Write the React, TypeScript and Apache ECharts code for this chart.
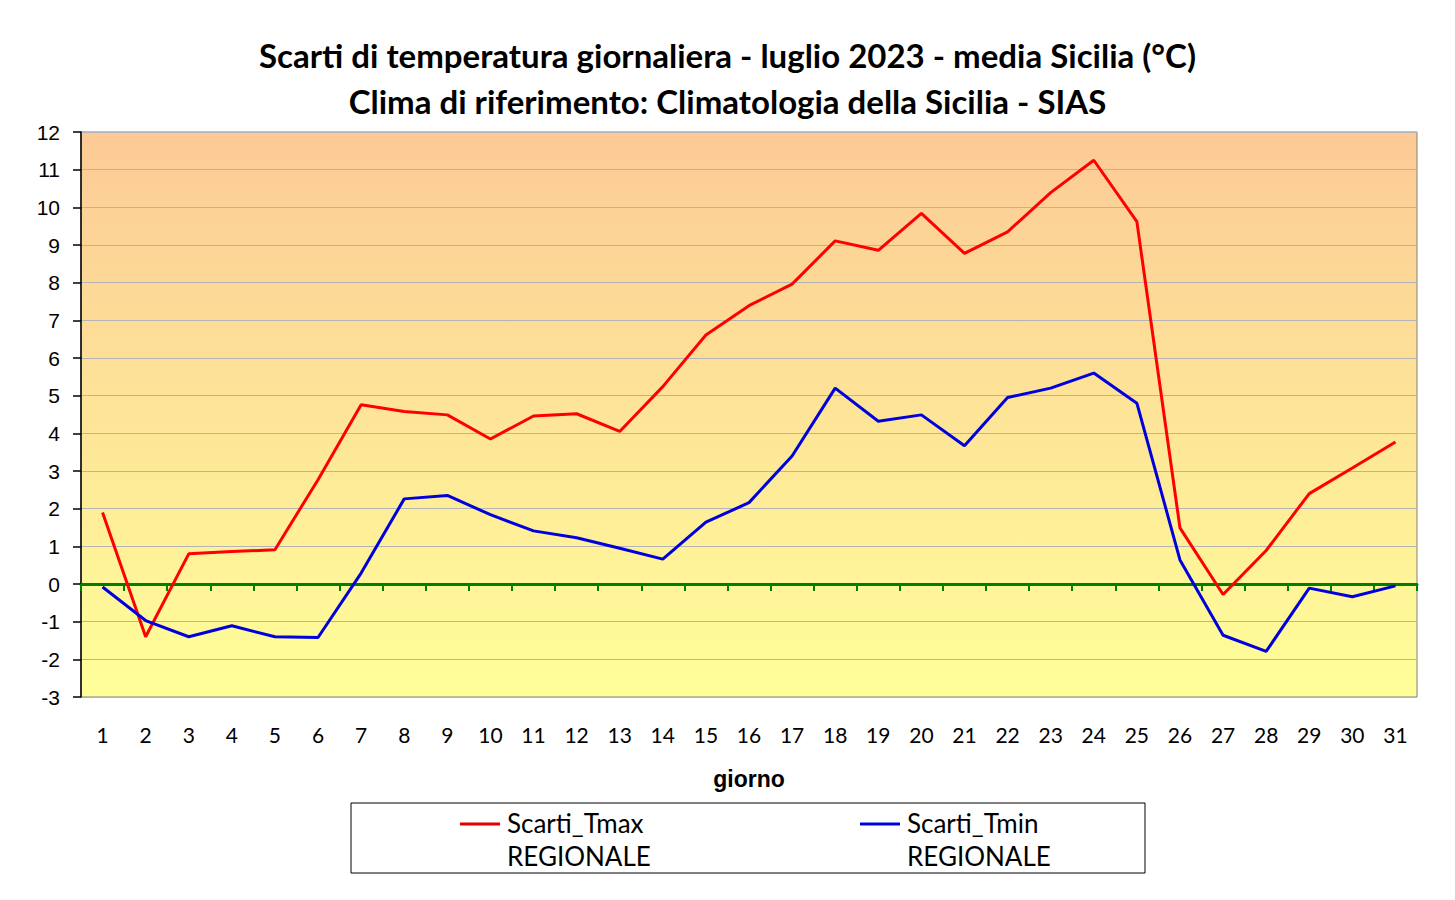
import React, { useEffect, useRef } from "react";
import * as echarts from "echarts";

const days = ["1","2","3","4","5","6","7","8","9","10","11","12","13","14","15","16","17","18","19","20","21","22","23","24","25","26","27","28","29","30","31"];
const tmax = [1.9,-1.4,0.8,0.86,0.91,2.77,4.76,4.58,4.49,3.85,4.46,4.52,4.05,5.24,6.61,7.39,7.96,9.11,8.86,9.84,8.78,9.35,10.39,11.25,9.62,1.49,-0.28,0.89,2.4,3.08,3.77];
const tmin = [-0.08,-0.97,-1.4,-1.11,-1.4,-1.42,0.29,2.26,2.35,1.84,1.41,1.23,0.95,0.66,1.64,2.16,3.4,5.2,4.32,4.49,3.67,4.95,5.2,5.6,4.8,0.64,-1.36,-1.79,-0.11,-0.34,-0.05];
const titleLines = ["Scarti di temperatura giornaliera - luglio 2023 - media Sicilia (°C)", "Clima di riferimento: Climatologia della Sicilia - SIAS"];
const seriesNames = ["Scarti_Tmax", "Scarti_Tmin"];
const legendSub = "REGIONALE";

export default function App() {
  const ref = useRef<HTMLDivElement>(null);
  useEffect(() => {
    if (!ref.current) return;
    const chart = echarts.init(ref.current, null, { renderer: "svg" });
    const xLabelFont = { fontFamily: "Lato", fontSize: 21, color: "#000" };
    const titleStyle = { fontFamily: "Lato", fontWeight: "bold", fontSize: 33, color: "#000" };
    const legendText = { fontFamily: "Lato", fontSize: 26, fill: "#000", verticalAlign: "middle" };
    chart.setOption({
      animation: false,
      backgroundColor: "#ffffff",
      title: [
        { text: titleLines[0], left: "center", top: 33, textStyle: titleStyle },
        { text: titleLines[1], left: "center", top: 79, textStyle: titleStyle },
      ],
      grid: {
        left: 81, right: 38, top: 132, bottom: 203,
        show: true,
        borderColor: "#808080",
        borderWidth: 1,
        backgroundColor: new echarts.graphic.LinearGradient(0, 0, 0, 1, [
          { offset: 0, color: "#FCCA96" },
          { offset: 1, color: "#FFFF99" },
        ]),
      },
      xAxis: [
        {
          type: "category",
          data: days,
          boundaryGap: true,
          position: "bottom",
          axisLine: { show: false, onZero: false },
          axisTick: { show: false },
          axisLabel: { ...xLabelFont, margin: 27, interval: 0 },
          splitLine: { show: false },
          name: "giorno",
          nameLocation: "middle",
          nameGap: 70,
          nameTextStyle: { fontFamily: "Liberation Sans", fontWeight: "bold", fontSize: 23, color: "#000" },
        },
        {
          type: "category",
          data: days,
          boundaryGap: true,
          position: "bottom",
          axisLine: { show: true, onZero: true, lineStyle: { color: "#008000", width: 3 } },
          axisTick: { show: true, length: 7, lineStyle: { color: "#008000", width: 2 }, interval: 0 },
          axisLabel: { show: false },
          splitLine: { show: false },
        },
      ],
      yAxis: {
        type: "value",
        min: -3,
        max: 12,
        interval: 1,
        axisLine: { show: true, lineStyle: { color: "#000", width: 1.5 } },
        axisTick: { show: true, length: 8, lineStyle: { color: "#000", width: 1.5 } },
        axisLabel: { fontFamily: "Liberation Sans", fontSize: 21, color: "#000", margin: 21 },
        splitLine: { show: true, lineStyle: { color: "#b4b4b4", width: 1 } },
      },
      series: [
        {
          name: seriesNames[0], type: "line", data: tmax, xAxisIndex: 0,
          showSymbol: false, symbol: "none",
          lineStyle: { color: "#FF0000", width: 3 }, itemStyle: { color: "#FF0000" },
        },
        {
          name: seriesNames[1], type: "line", data: tmin, xAxisIndex: 0,
          showSymbol: false, symbol: "none",
          lineStyle: { color: "#0000DD", width: 3 }, itemStyle: { color: "#0000DD" },
        },
      ],
      graphic: [
        { type: "rect", shape: { x: 351, y: 803, width: 794, height: 70 }, style: { fill: "#fff", stroke: "#000", lineWidth: 1 } },
        { type: "line", shape: { x1: 460, y1: 824, x2: 500, y2: 824 }, style: { stroke: "#E00000", lineWidth: 3 } },
        { type: "text", x: 507, y: 823, style: { text: seriesNames[0], ...legendText } },
        { type: "text", x: 507, y: 856, style: { text: legendSub, ...legendText } },
        { type: "line", shape: { x1: 860, y1: 824, x2: 900, y2: 824 }, style: { stroke: "#0000DD", lineWidth: 3 } },
        { type: "text", x: 907, y: 823, style: { text: seriesNames[1], ...legendText } },
        { type: "text", x: 907, y: 856, style: { text: legendSub, ...legendText } },
      ],
    });
    return () => chart.dispose();
  }, []);
  return <div ref={ref} style={{ position: "fixed", left: 0, top: 0, width: 1455, height: 900 }} />;
}
